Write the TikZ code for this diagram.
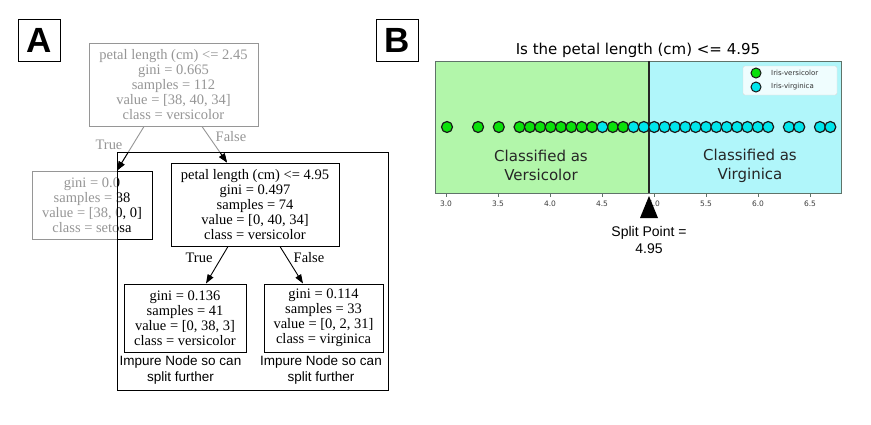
\documentclass[tikz,border=0pt]{standalone}
\usepackage{fontspec}
\setmainfont{Liberation Serif}
\newfontfamily\treefont{Liberation Serif}
\newfontfamily\dvfont{DejaVu Sans}
\newfontfamily\lsfont{Liberation Sans}
\usetikzlibrary{arrows.meta}
\definecolor{tgray}{RGB}{150,150,150}
\definecolor{regG}{RGB}{178,246,170}
\definecolor{regC}{RGB}{176,246,250}
\definecolor{ptG}{RGB}{10,225,10}
\definecolor{ptC}{RGB}{0,230,235}
\definecolor{spine}{RGB}{95,115,105}
\definecolor{ticktext}{RGB}{60,60,60}
\tikzset{
  tbox/.style={draw, rectangle, line width=1pt, align=center, inner sep=0pt,
    font=\treefont\fontsize{14.5}{14.9}\selectfont},
  tlabel/.style={font=\treefont\fontsize{14.5}{15}\selectfont, inner sep=0pt},
  tarrow/.style={line width=0.9pt, -{Triangle[length=9pt,width=6.5pt,color=black]}},
  caption/.style={font=\lsfont\fontsize{13.5}{16}\selectfont, align=center, inner sep=0pt},
  panellabel/.style={draw, line width=1pt, minimum width=42pt, minimum height=42pt,
    font=\lsfont\bfseries\fontsize{35}{35}\selectfont, inner sep=0pt},
  gpt/.style={circle, draw=black!90, line width=1.2pt, fill=ptG, minimum size=11pt, inner sep=0pt},
  cpt/.style={circle, draw=black!90, line width=1.2pt, fill=ptC, minimum size=11pt, inner sep=0pt},
  lgpt/.style={circle, draw=black!90, line width=1pt, minimum size=10pt, inner sep=0pt},
  ticklab/.style={font=\dvfont\fontsize{7.5}{7.5}\selectfont, text=ticktext, inner sep=0pt},
  bigtext/.style={font=\dvfont\fontsize{15}{19}\selectfont, align=center, inner sep=0pt, text=black!85},
}
\begin{document}
\begin{tikzpicture}[x=1pt,y=-1pt]
\useasboundingbox (0,0) rectangle (871,424);
\fill[white] (0,0) rectangle (871,424);

% ---------- Panel A ----------
\node[panellabel] (labA) at (39.5,40.5) {A};

% gray layer
\node[tbox, draw=tgray, text=tgray, minimum width=169pt, minimum height=83pt] (root) at (173.5,84.5)
  {petal length (cm) <= 2.45\\gini = 0.665\\samples = 112\\value = [38, 40, 34]\\class = versicolor};
\node[tbox, draw=tgray, text=tgray, minimum width=120pt, minimum height=68pt] (setosa) at (92,205)
  {gini = 0.0\\samples = 38\\value = [38, 0, 0]\\class = setosa};
\node[tbox, minimum width=168pt, minimum height=83pt] (mid) at (255,204.5)
  {petal length (cm) <= 4.95\\gini = 0.497\\samples = 74\\value = [0, 40, 34]\\class = versicolor};
\draw[tarrow, tgray] ([xshift=-29.5pt]root.south) -- ([xshift=25pt]setosa.north);
\draw[tarrow, tgray] ([xshift=28.5pt]root.south) -- ([xshift=-28pt]mid.north);
\node[tlabel, text=tgray] (lT1) at (109,145) {True};
\node[tlabel, text=tgray] (lF1) at (231,137) {False};

% highlighted region (black inside the frame)
\begin{scope}
  \clip (117,152) rectangle (388,390);
  \node[tbox, minimum width=120pt, minimum height=68pt, fill=white] (setosaB) at (92,205)
    {gini = 0.0\\samples = 38\\value = [38, 0, 0]\\class = setosa};
  \draw[tarrow] ([xshift=-29.5pt]root.south) -- ([xshift=25pt]setosa.north);
  \draw[tarrow] ([xshift=28.5pt]root.south) -- ([xshift=-28pt]mid.north);
\end{scope}
\node[tbox, minimum width=168pt, minimum height=83pt, fill=white] (mid2) at (255,204.5)
  {petal length (cm) <= 4.95\\gini = 0.497\\samples = 74\\value = [0, 40, 34]\\class = versicolor};
\node[draw, line width=1pt, minimum width=271pt, minimum height=238pt, inner sep=0pt] (frame) at (252.5,271) {};

\node[tbox, minimum width=122pt, minimum height=68pt] (bl) at (185,318)
  {gini = 0.136\\samples = 41\\value = [0, 38, 3]\\class = versicolor};
\node[tbox, minimum width=119pt, minimum height=68pt] (br) at (323.5,318)
  {gini = 0.114\\samples = 33\\value = [0, 2, 31]\\class = virginica};
\draw[tarrow] ([xshift=-27pt]mid2.south) -- ([xshift=21pt]bl.north);
\draw[tarrow] ([xshift=25pt]mid2.south) -- ([xshift=-20.5pt]br.north);
\node[tlabel] (lT2) at (199,258) {True};
\node[tlabel] (lF2) at (309,258) {False};
\node[caption] (cap1) at (180.5,370) {Impure Node so can\\split further};
\node[caption] (cap2) at (321,370) {Impure Node so can\\split further};

% ---------- Panel B ----------
\node[panellabel] (labB) at (397,40.5) {B};
\node[font=\dvfont\fontsize{15}{15}\selectfont, inner sep=0pt] (title) at (638,50) {Is the petal length (cm) <= 4.95};

\fill[regG] (435.5,61) rectangle (649,193);
\fill[regC] (649,61) rectangle (841,193);
\draw[spine, line width=1pt] (435.5,61) rectangle (841,193);

\node[bigtext] (clsV) at (541,165.5) {Classified as\\Versicolor};
\node[bigtext] (clsR) at (750,165.5) {Classified as\\Virginica};

\draw[black!85, line width=1.6pt] (649,61) -- (649,193);

\foreach \v [count=\i] in {3.0,3.3,3.5,3.7,3.8,3.9,4.0,4.1,4.2,4.3,4.4,4.6,4.7}
  \node[gpt] (g\i) at ({447+(\v-3)*103.6},127) {};
\foreach \v [count=\i] in {4.5,4.8,4.9,5.0,5.1,5.2,5.3,5.4,5.5,5.6,5.7,5.8,5.9,6.0,6.1,6.3,6.4,6.6,6.7}
  \node[cpt] (c\i) at ({447+(\v-3)*103.6},127) {};

% legend
\node[draw=black!15, fill=white, fill opacity=0.8, rounded corners=2pt, minimum width=94pt,
  minimum height=29pt, inner sep=0pt] (legend) at (790,80.5) {};
\node[lgpt, fill=ptG] (lg1) at (756,73) {};
\node[lgpt, fill=ptC] (lg2) at (756,87) {};
\node[anchor=west, font=\dvfont\fontsize{7}{7}\selectfont, text=black!80, inner sep=0pt] (lgt1) at (771,73) {Iris-versicolor};
\node[anchor=west, font=\dvfont\fontsize{7}{7}\selectfont, text=black!80, inner sep=0pt] (lgt2) at (771,87) {Iris-virginica};

% axis ticks
\foreach \v [count=\i] in {3.0,3.5,4.0,4.5,5.0,5.5,6.0,6.5} {
  \draw[spine, line width=0.7pt] ({446+(\v-3)*104},193) -- ({446+(\v-3)*104},196.5);
  \node[ticklab] (t\i) at ({446+(\v-3)*104},204) {\v};
}

% split marker
\fill[black] (649,196) -- (640,218) -- (658,218) -- cycle;
\node[font=\lsfont\fontsize{14}{17}\selectfont, align=center, inner sep=0pt] (split) at (649,239.5) {Split Point =\\4.95};
\end{tikzpicture}
\end{document}
